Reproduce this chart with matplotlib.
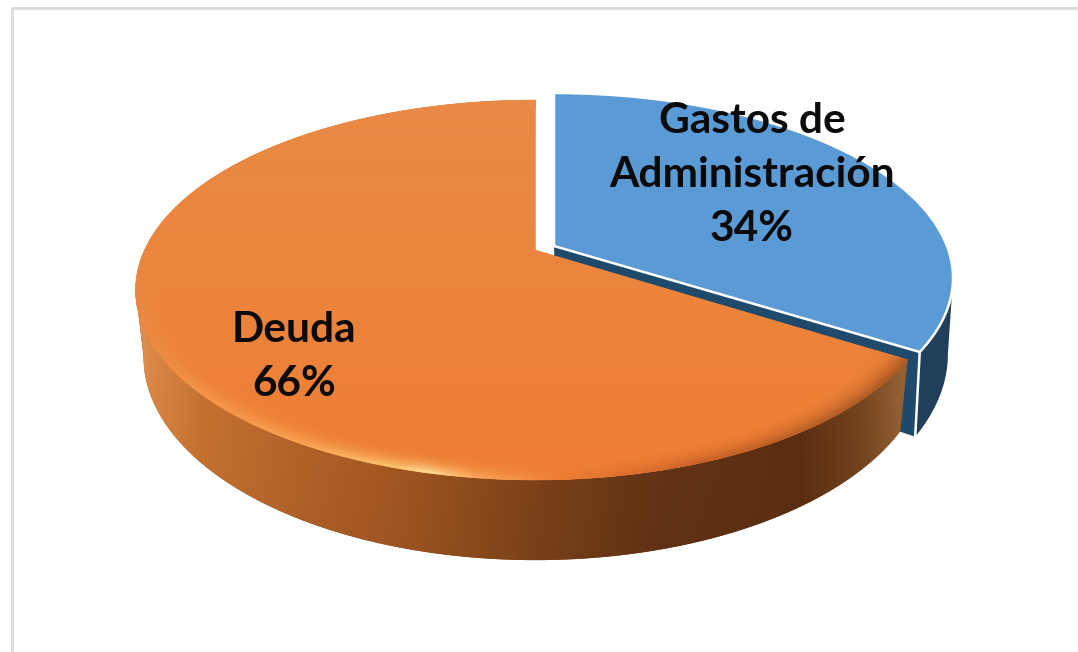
import numpy as np
import matplotlib
matplotlib.use("Agg")
import matplotlib.pyplot as plt
from matplotlib.collections import PolyCollection
from matplotlib.transforms import Transform

categories = ["Gastos de\nAdministración", "Deuda"]
values = [34, 66]
top_colors = ["#5B9BD5", "#EC8138"]
label_pos = [(752, 175), (294, 357)]

W, H = 1078, 652


class Persp(Transform):
    input_dims = output_dims = 2
    is_separable = False
    has_inverse = False

    def __init__(self, x0, y0, a, b, k):
        super().__init__()
        self.x0, self.y0, self.a, self.b, self.k = x0, y0, a, b, k

    def transform_non_affine(self, xy):
        xy = np.asarray(xy, float)
        w = 1 + self.k * xy[:, 1]
        return np.column_stack((self.x0 + self.a * xy[:, 0] / w,
                                self.y0 - self.b * xy[:, 1] / w))


fig = plt.figure(figsize=(W / 100, H / 100), dpi=100, facecolor="white")
ax = fig.add_axes([0, 0, 1, 1])

wedges, _ = ax.pie(values, startangle=90, counterclock=False, colors=top_colors,
                   radius=1, center=(0, 0))
ax.set_aspect("auto")
ax.axis("off")

frac = np.cumsum([0] + values) / sum(values)
ang = 2 * np.pi * frac  # clockwise from the top


def unit(t, r=1.0):
    return np.column_stack((r * np.sin(t), r * np.cos(t)))


blue = Persp(554, 246, 393, 179.5, 0.173)
blue_low = Persp(556, 318, 386, 201, 0.173)
orange = Persp(535.5, 250, 391, 181.6, 0.2105)
low_o = Persp(535.5, 314, 391 * 0.98, 181.6 * 1.07, 0.2105)

# ---- blue slice walls
tip = blue.transform_non_affine(unit(np.array([ang[1]])))[0]
apex = blue.transform_non_affine(np.array([[0.0, 0.0]]))[0]
tip_low = blue_low.transform_non_affine(unit(np.array([ang[1]])))[0]
apex_low = blue_low.transform_non_affine(np.array([[0.0, 0.0]]))[0]
ax.fill([apex[0], tip[0], tip_low[0], apex_low[0]],
        [apex[1], tip[1], tip_low[1], apex_low[1]], color="#1F4A6C", lw=0, zorder=1)
ts = np.linspace(np.arccos(-blue.k), ang[1], 120)
top_rim = blue.transform_non_affine(unit(ts))
low_rim = blue_low.transform_non_affine(unit(ts))
ax.fill(np.r_[top_rim[:, 0], low_rim[::-1, 0]], np.r_[top_rim[:, 1], low_rim[::-1, 1]],
        color="#213F5A", lw=0, zorder=1)
ax.plot([tip[0], tip_low[0]], [tip[1], tip_low[1]], color="white", lw=1.8, zorder=1.5)

# ---- blue top
w0 = wedges[0]
w0.set_transform(blue + ax.transData)
w0.set_edgecolor("white")
w0.set_linewidth(1.8)
w0.set_zorder(2)

# ---- orange wall: a horizontal gradient clipped to the wall outline
to = np.linspace(ang[1], 2 * np.pi - np.arccos(-orange.k), 500)
top_pts = orange.transform_non_affine(unit(to))
low_pts = low_o.transform_non_affine(unit(to))

wall_x = [135, 150, 200, 300, 400, 530, 650, 800, 860, 900]
wall_r = [228, 224, 204, 184, 168, 131, 104, 95, 120, 152]
wall_g = [150, 138, 118, 102, 90, 70, 54, 48, 70, 98]
wall_b = [84, 72, 50, 42, 34, 26, 22, 18, 32, 52]

xs = np.arange(130, 915)
wall_img = np.stack([np.interp(xs, wall_x, wall_r),
                     np.interp(xs, wall_x, wall_g),
                     np.interp(xs, wall_x, wall_b)], axis=1)[None, :, :] / 255
rows = np.linspace(1.0, 0.93, 60)[:, None, None]
wall_img = np.clip(wall_img * rows, 0, 1)
outline = ax.fill(np.r_[top_pts[:, 0], low_pts[::-1, 0]],
                  np.r_[top_pts[:, 1], low_pts[::-1, 1]],
                  color="#8A4A1C", lw=0, zorder=3)[0]
wi = ax.imshow(wall_img, extent=(130, 915, 570, 280), aspect="auto", zorder=3.1,
               interpolation="bilinear")
wi.set_clip_path(outline)

# ---- orange top: pie wedge, soft vertical gradient, bevel band
w1 = wedges[1]
w1.set_transform(orange + ax.transData)
w1.set_edgecolor("none")
w1.set_zorder(4)

grad_top = np.array([233, 138, 70]) / 255
grad_low = np.array([238, 126, 50]) / 255
g = np.linspace(0, 1, 256)[:, None, None]
img = grad_top[None, None, :] * (1 - g) + grad_low[None, None, :] * g
im = ax.imshow(img, extent=(100, 950, 480, 100), aspect="auto", zorder=4.1, interpolation="bilinear")
im.set_clip_path(w1)

edge_x = [135, 200, 300, 400, 430, 480, 560, 700, 880]
edge_r = [232, 245, 250, 254, 255, 250, 238, 196, 170]
edge_g = [135, 150, 165, 205, 232, 170, 126, 96, 88]
edge_b = [66, 75, 85, 120, 160, 95, 52, 38, 36]

rings = np.linspace(0.925, 1.0, 11)
polys, cols = [], []
to2 = np.linspace(ang[1], ang[2], 300)
for r0, r1 in zip(rings[:-1], rings[1:]):
    a = orange.transform_non_affine(unit(to2, r0))
    b = orange.transform_non_affine(unit(to2, r1))
    t = ((0.5 * (r0 + r1) - rings[0]) / (1 - rings[0])) ** 2.2
    for i in range(len(to2) - 1):
        v = np.cos(to2[i])
        fade = np.clip((0.15 - v) / 0.45, 0, 1)
        x, y = a[i]
        gy = np.clip((y - 100) / 380, 0, 1)
        base = grad_top * (1 - gy) + grad_low * gy
        ec = np.array([np.interp(x, edge_x, edge_r), np.interp(x, edge_x, edge_g),
                       np.interp(x, edge_x, edge_b)]) / 255
        c = base * (1 - t * fade) + ec * t * fade
        polys.append([a[i], a[i + 1], b[i + 1], b[i]])
        cols.append(c)
ax.add_collection(PolyCollection(polys, facecolors=cols, edgecolors=cols, linewidths=0.3, zorder=4.2))

# ---- chart frame
ax.plot([W + 5, 12, 12], [7.5, 7.5, H + 5], color="#DDDDDD", lw=2.2, zorder=0)

# ---- labels
pct = [f"{v}%" for v in values]
for (x, y), c, p in zip(label_pos, categories, pct):
    ax.text(x, y, f"{c}\n{p}", ha="center", va="center", family="Lato", weight="bold",
            fontsize=30.5, color="#0A0A0A", linespacing=1.52, zorder=6)

ax.set_xlim(0, W)
ax.set_ylim(H, 0)
fig.savefig("out.png", dpi=100)
